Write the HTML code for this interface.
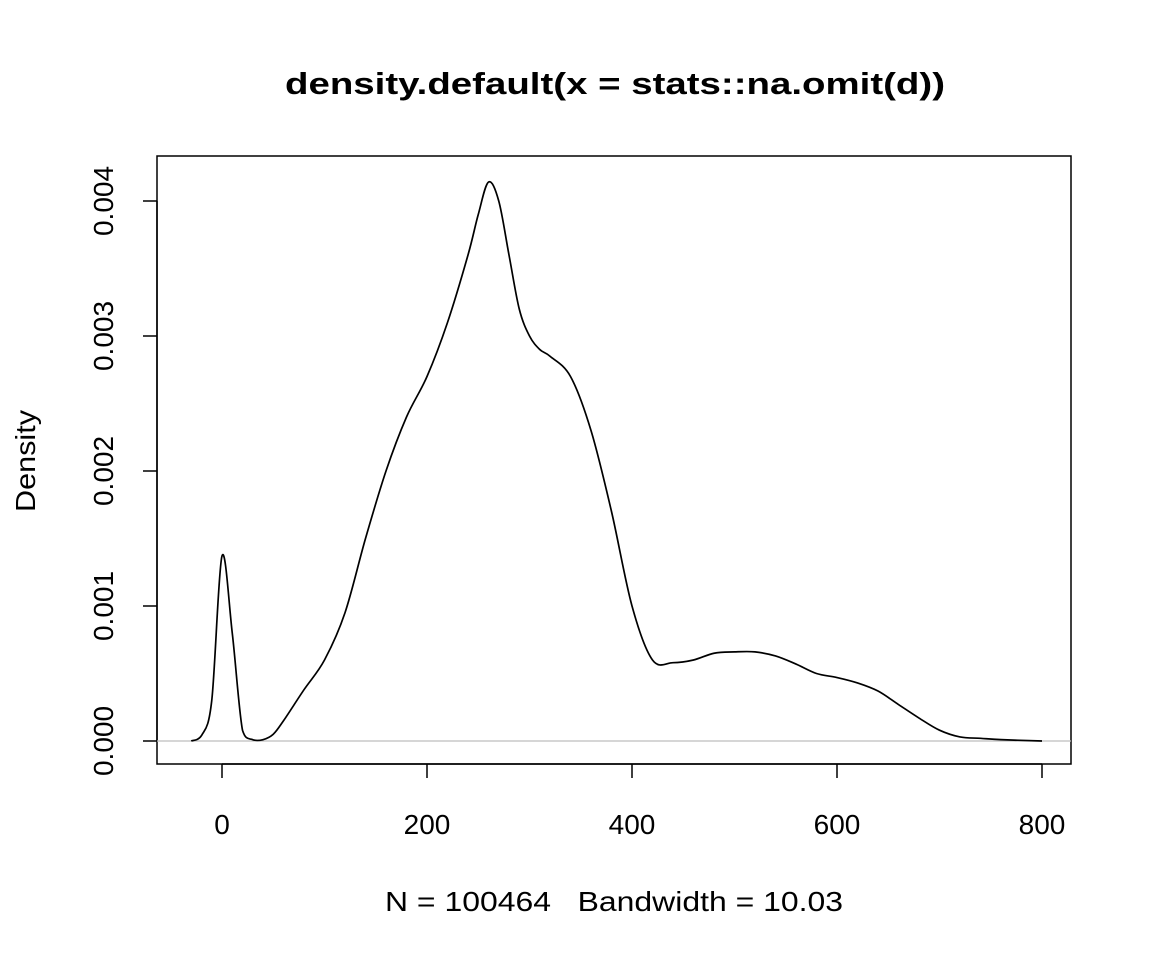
<!DOCTYPE html>
<html><head><meta charset="utf-8"><style>body{margin:0;background:#fff}svg{display:block;font-family:"Liberation Sans",Arial,sans-serif}</style></head>
<body>
<svg id="chart" width="1152" height="960">
<rect width="1152" height="960" fill="#fff"/>
<text x="615" y="94" text-anchor="middle" font-size="31" font-weight="bold" textLength="660" lengthAdjust="spacingAndGlyphs">density.default(x = stats::na.omit(d))</text>
<text x="614" y="911" text-anchor="middle" font-size="28" textLength="458" lengthAdjust="spacingAndGlyphs" style="white-space:pre">N = 100464   Bandwidth = 10.03</text>
<text transform="translate(35,461) rotate(-90)" text-anchor="middle" font-size="28" textLength="102" lengthAdjust="spacingAndGlyphs">Density</text>
<rect x="157" y="156" width="914" height="608" fill="none" stroke="#000" stroke-width="1.5"/>
<g id="axes"></g>
<line x1="157" x2="1071" y1="741" y2="741" stroke="#bebebe" stroke-width="1.3"/>
<path id="curve" fill="none" stroke="#000" stroke-width="1.7"/>
</svg>
<script>
const xs=[-30,-20,-10,0,10,20,30,40,50,60,80,100,120,140,160,180,200,220,240,250,260,270,280,290,300,310,320,340,360,380,400,420,440,460,480,500,520,540,560,580,600,620,640,660,680,700,720,740,760,800];
const ys=[0,0.00004,0.0003,0.00137,0.0008,0.00008,0.00001,0.00001,0.00005,0.00015,0.00038,0.0006,0.00095,0.0015,0.002,0.0024,0.0027,0.0031,0.0036,0.0039,0.00414,0.004,0.0036,0.0032,0.003,0.0029,0.00285,0.0027,0.0023,0.0017,0.001,0.0006,0.00058,0.0006,0.00065,0.00066,0.00066,0.00063,0.00057,0.0005,0.00047,0.00043,0.00037,0.00027,0.00017,0.00008,0.00003,0.00002,0.00001,0];
const xTicks=[0,200,400,600,800];
const yTicks=[0,0.001,0.002,0.003,0.004];
const yLabels=["0.000","0.001","0.002","0.003","0.004"];
const X=v=>222+v*1.025, Y=v=>741-v*135000;
const ns="http://www.w3.org/2000/svg", g=document.getElementById('axes');
function mk(t,a){const e=document.createElementNS(ns,t);for(const k in a)e.setAttribute(k,a[k]);g.appendChild(e);return e;}
mk('line',{x1:X(0),x2:X(800),y1:764,y2:764,stroke:'#000','stroke-width':1.5});
xTicks.forEach(v=>{const l=mk('line',{x1:X(v),x2:X(v),y1:764,y2:778,stroke:'#000','stroke-width':1.5});


const t=mk('text',{x:X(v),y:834,'text-anchor':'middle','font-size':28});t.textContent=v;

});
mk('line',{x1:157,x2:157,y1:Y(0),y2:Y(0.004),stroke:'#000','stroke-width':1.5});
yTicks.forEach((v,i)=>{const l=mk('line',{x1:143,x2:157,y1:Y(v),y2:Y(v),stroke:'#000','stroke-width':1.5});


const t=mk('text',{transform:`translate(113,${Y(v)}) rotate(-90)`,'text-anchor':'middle','font-size':28});t.textContent=yLabels[i];

});
const P=xs.map((x,i)=>[X(x),Y(ys[i])]);
let d=`M${P[0][0]},${P[0][1]}`;
for(let i=0;i<P.length-1;i++){const p0=P[i-1]||P[i],p1=P[i],p2=P[i+1],p3=P[i+2]||p2;
const c1=[p1[0]+(p2[0]-p0[0])/6,p1[1]+(p2[1]-p0[1])/6],c2=[p2[0]-(p3[0]-p1[0])/6,p2[1]-(p3[1]-p1[1])/6];
d+=` C${c1[0]},${Math.min(c1[1],741)} ${c2[0]},${Math.min(c2[1],741)} ${p2[0]},${p2[1]}`;}
document.getElementById('curve').setAttribute('d',d);
</script>
</body></html>
